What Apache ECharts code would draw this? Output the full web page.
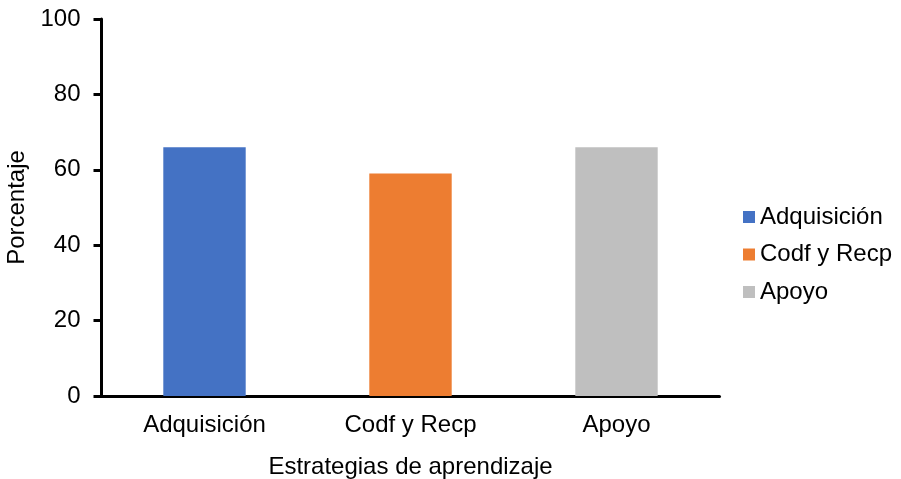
<!DOCTYPE html>
<html>
<head>
<meta charset="utf-8">
<script src="https://cdn.jsdelivr.net/npm/echarts@6/dist/echarts.min.js"></script>
<style>
  html, body { margin: 0; padding: 0; background: #fff; }
  #chart { width: 901px; height: 479px; }
</style>
</head>
<body>
<div id="chart"></div>
<script>
// Learning-strategy percentages
const categories = ['Adquisición', 'Codf y Recp', 'Apoyo'];
const seriesNames = ['Adquisición', 'Codf y Recp', 'Apoyo'];
const values = [66, 59, 66];
const colors = ['#4472C4', '#ED7D31', '#BFBFBF'];
const yTicks = [0, 20, 40, 60, 80, 100];

const font = 'Liberation Sans, Arial, sans-serif';

// One series per strategy so each gets its own legend entry; stacking keeps bars centred.
const series = seriesNames.map((name, i) => ({
  name: name,
  type: 'bar',
  stack: 'total',
  barWidth: '40%',
  itemStyle: { color: colors[i] },
  data: categories.map((c, j) => (j === i ? values[i] : null))
}));

const chart = echarts.init(document.getElementById('chart'));
chart.setOption({
  animation: false,
  grid: { left: 101.5, right: 181.5, top: 19, bottom: 83, outerBoundsMode: 'none', containLabel: false },
  legend: {
    orient: 'vertical',
    left: 743,
    top: 205,
    padding: 0,
    itemWidth: 12,
    itemHeight: 12,
    itemGap: 13.5,
    icon: 'rect',
    textStyle: { fontFamily: font, fontSize: 24, color: '#000' },
    data: seriesNames
  },
  xAxis: {
    type: 'category',
    data: categories,
    name: 'Estrategias de aprendizaje',
    nameLocation: 'middle',
    nameGap: 59,
    nameTextStyle: { fontFamily: font, fontSize: 24, color: '#000' },
    axisLine: { lineStyle: { color: '#000', width: 3 } },
    axisTick: { show: false },
    axisLabel: { fontFamily: font, fontSize: 24, color: '#000', margin: 17 }
  },
  yAxis: {
    type: 'value',
    min: yTicks[0],
    max: yTicks[yTicks.length - 1],
    interval: 20,
    name: 'Porcentaje',
    nameLocation: 'middle',
    nameGap: 64,
    nameTextStyle: { fontFamily: font, fontSize: 24, color: '#000' },
    axisLine: { show: true, lineStyle: { color: '#000', width: 3 } },
    axisTick: { show: true, length: 8, lineStyle: { color: '#000', width: 3 } },
    splitLine: { show: false },
    axisLabel: { fontFamily: font, fontSize: 24, color: '#000', margin: 21 }
  },
  series: series
});
</script>
</body>
</html>
